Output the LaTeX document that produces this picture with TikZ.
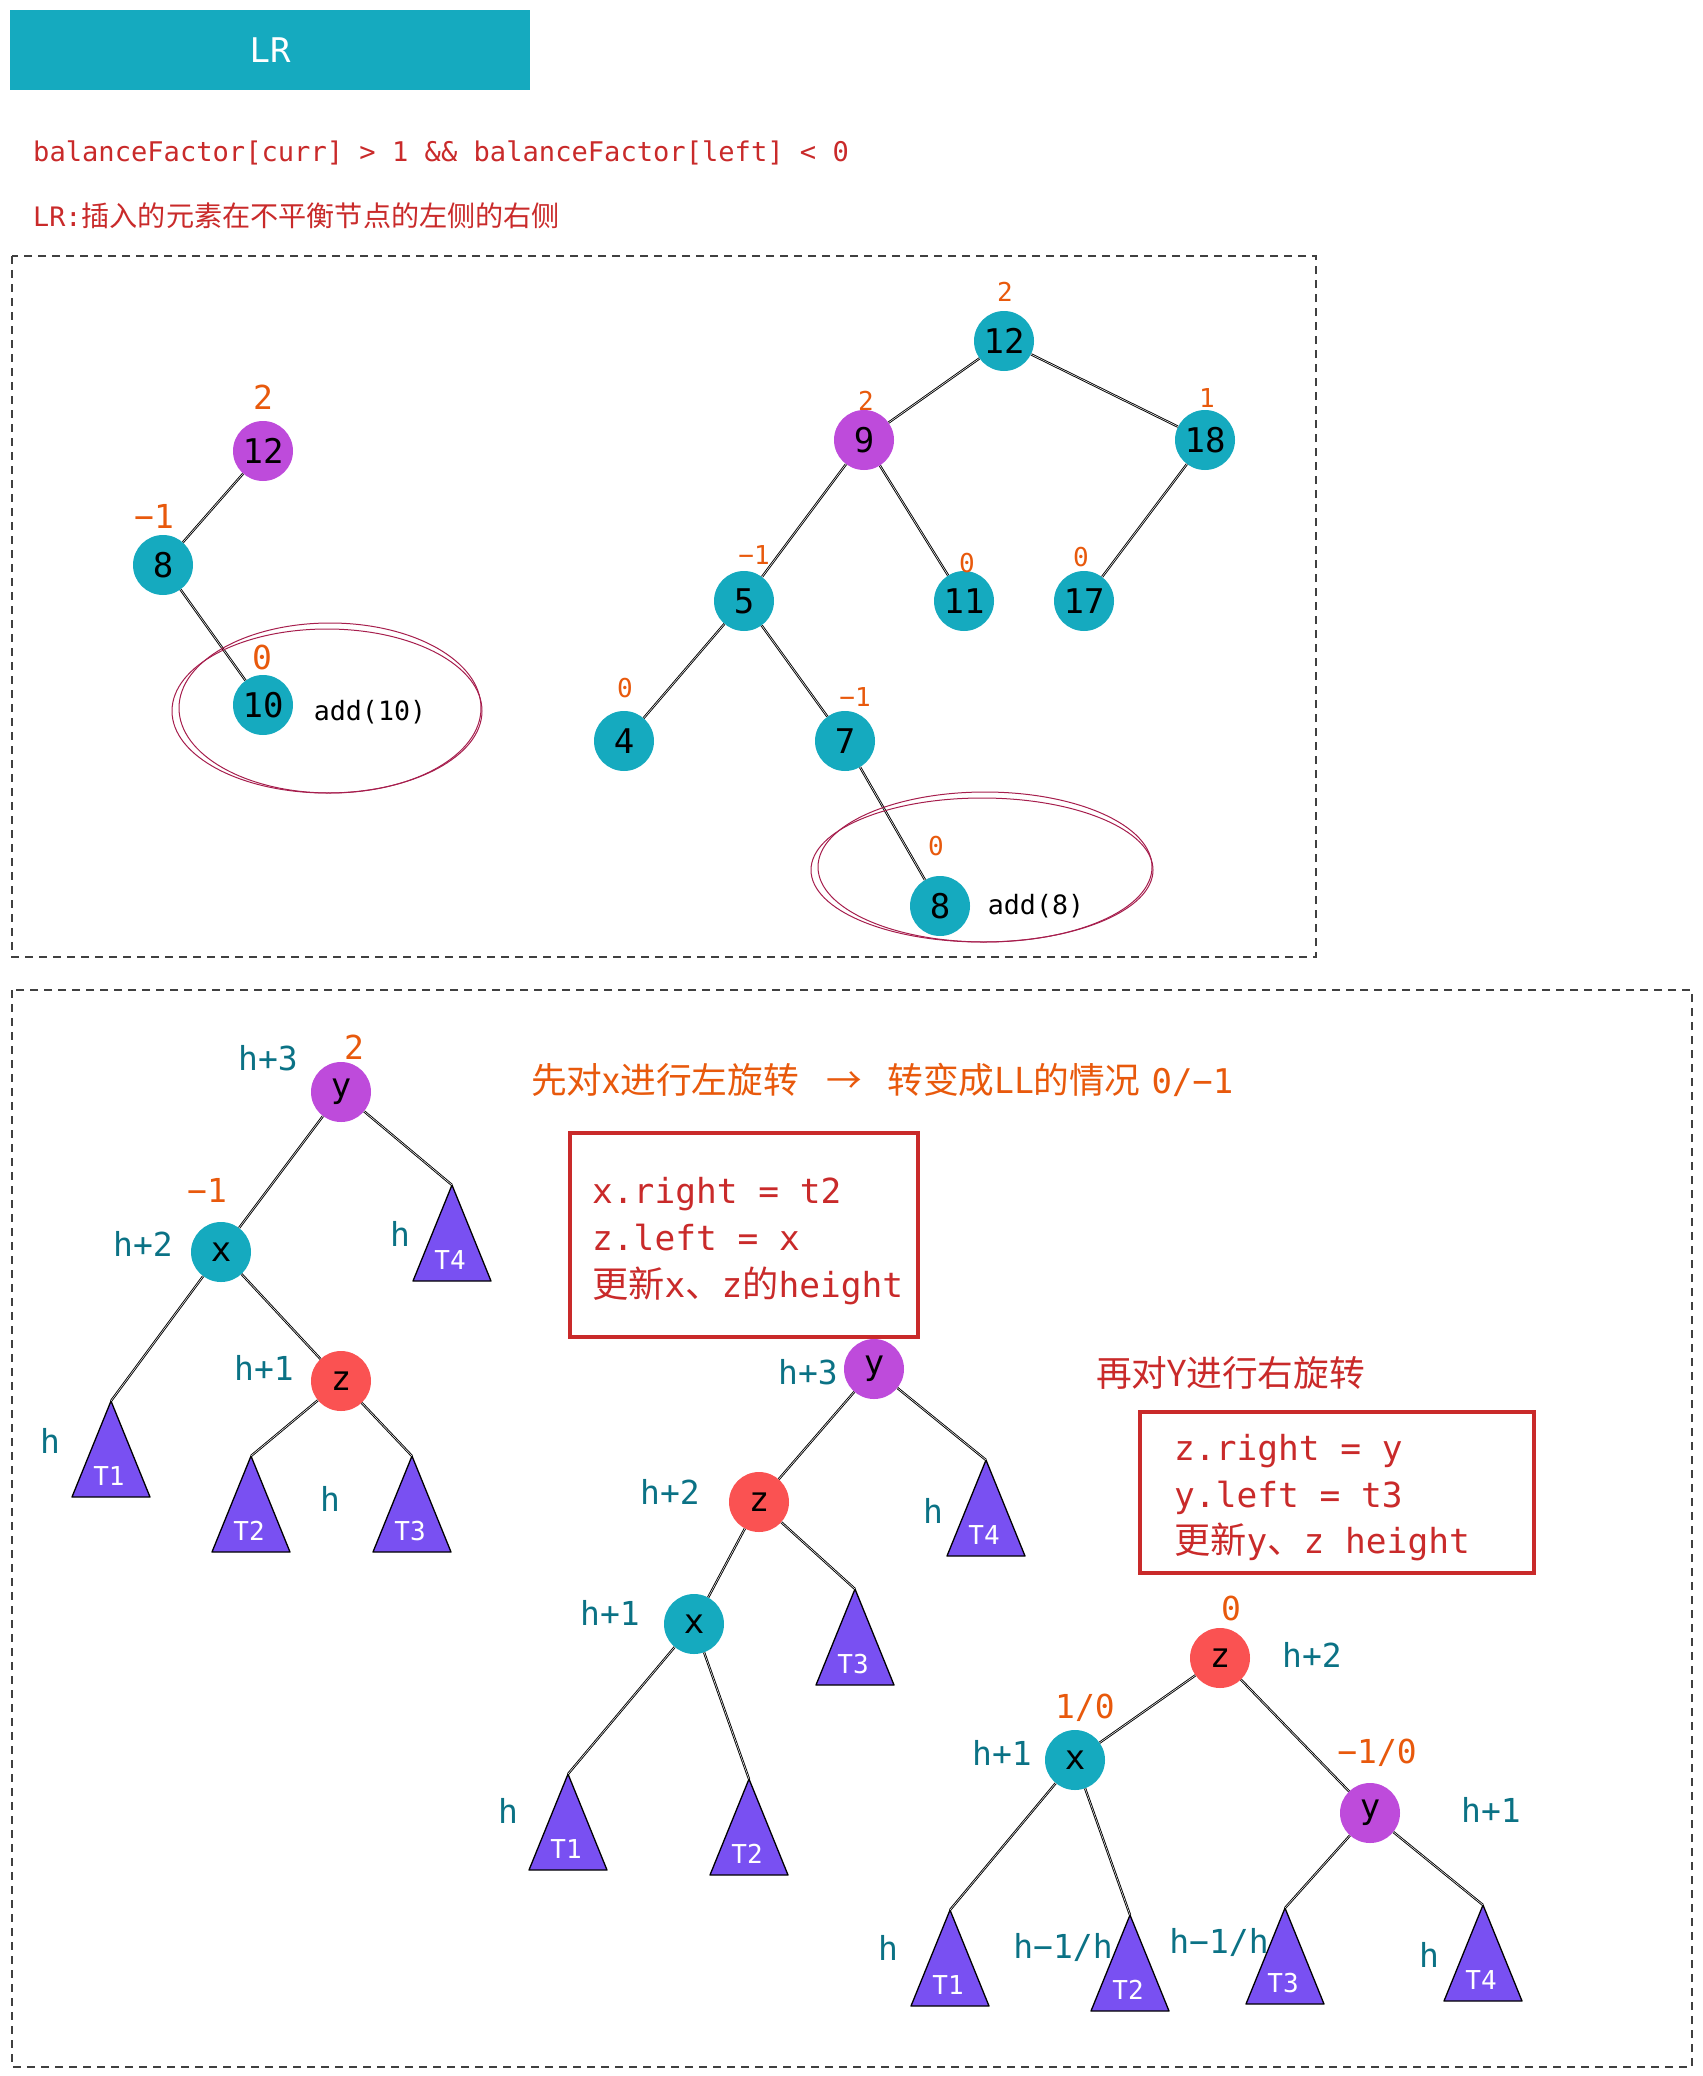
\documentclass[tikz,border=0pt]{standalone}
\usepackage{fontspec}
\setmonofont{DejaVu Sans Mono}
\newfontfamily\cjk[Scale=1.05]{Noto Sans CJK SC}
\newcommand{\pxfont}[1]{\fontsize{#1}{#1}\selectfont}
\definecolor{nodeteal}{HTML}{15AABF}
\definecolor{nodepurple}{HTML}{BE4BDB}
\definecolor{nodered}{HTML}{FA5252}
\definecolor{treeviolet}{HTML}{7950F2}
\definecolor{bforange}{HTML}{E8590C}
\definecolor{htext}{HTML}{0B7285}
\definecolor{codered}{HTML}{C92A2A}
\definecolor{ringpink}{HTML}{A61E4D}

\begin{document}
\begin{tikzpicture}[x=1pt,y=-1pt,
		avl/.style={circle,inner sep=0pt,minimum size=60pt,font=\ttfamily\pxfont{34}},
		tealnode/.style={avl,fill=nodeteal},
		purplenode/.style={avl,fill=nodepurple},
		rednode/.style={avl,fill=nodered},
		bf/.style={text=bforange,font=\ttfamily\pxfont{33}},
		bfsmall/.style={text=bforange,font=\ttfamily\pxfont{26}},
		hlab/.style={text=htext,font=\ttfamily\pxfont{33}},
		edge/.style={draw=black,line width=0.9pt,double=white,double distance=0.5pt},
		subtree/.style={draw=black,fill=treeviolet,line width=1.3pt,line join=round},
		tlab/.style={text=white,font=\ttfamily\pxfont{26}},
		frame/.style={draw=black!75,line width=1.4pt,dash pattern=on 8pt off 6pt},
		ring/.style={draw=ringpink,line width=1pt},
		notebox/.style={draw=codered,line width=4pt},
		textline/.style={anchor=base west,inner sep=0pt},
		code/.style={textline,text=codered,font=\ttfamily\pxfont{34.5}}]
		\useasboundingbox (0,0) rectangle (1702,2076);
		% header
		\node[fill=nodeteal,minimum width=520pt,minimum height=80pt,inner sep=0pt,text=white,font=\ttfamily\pxfont{34}] (header) at (270,50) {LR};
		\node[textline,text=codered,font=\ttfamily\pxfont{27.1}] (cond) at (33,162) {balanceFactor[curr] > 1 \&\& balanceFactor[left] < 0};
		\node[textline,text=codered,font=\pxfont{26.8}] (case) at (33,227) {\ttfamily LR:\cjk 插入的元素在不平衡节点的左侧的右侧};
		\draw[frame] (12,256) rectangle (1316,957);
		\draw[frame] (12,990) rectangle (1692,2067);
		% add(10)
		\node[purplenode] (tl12) at (263,451) {12};
		\node[tealnode] (tl8) at (163,565) {8};
		\node[tealnode] (tl10) at (263,705) {10};
		\draw[edge] (tl12) -- (tl8);
		\draw[edge] (tl8) -- (tl10);
		\foreach \n/\x/\y/\t in {bf-tl12/263/397/2, bf-tl8/154/516/−1, bf-tl10/262/657/0}
		\node[bf] (\n) at (\x,\y) {\t};
		\node[font=\ttfamily\pxfont{26.6}] (add10) at (370,712) {add(10)};
		\draw[ring] (327,711) ellipse [x radius=155, y radius=82];
		\draw[ring] (330,708) ellipse [x radius=151, y radius=85];
		% add(8)
		\foreach \n/\x/\y/\t in {tr12/1004/341/12, tr18/1205/440/18, tr5/744/601/5, tr11/964/601/11, tr17/1084/601/17, tr4/624/741/4, tr7/845/741/7, tr8/940/906/8}
		\node[tealnode] (\n) at (\x,\y) {\t};
		\node[purplenode] (tr9) at (864,440) {9};
		\foreach \a/\b in {tr12/tr9, tr12/tr18, tr9/tr5, tr9/tr11, tr18/tr17, tr5/tr4, tr5/tr7, tr7/tr8}
		\draw[edge] (\a) -- (\b);
		\foreach \n/\x/\y/\t in {bf-tr12/1005/292/2, bf-tr9/866/401/2, bf-tr18/1207/398/1, bf-tr5/754/555/−1, bf-tr11/967/563/0, bf-tr17/1081/557/0, bf-tr4/625/688/0, bf-tr7/855/697/−1, bf-tr8/936/846/0}
		\node[bfsmall] (\n) at (\x,\y) {\t};
		\node[font=\ttfamily\pxfont{26.6}] (add8) at (1036,906) {add(8)};
		\draw[ring] (982,870) ellipse [x radius=171, y radius=72];
		\draw[ring] (985,867) ellipse [x radius=167, y radius=75];
		% subtrees
		\foreach \n/\x/\y/\t in {a1/111/1401/T1, a2/251/1456/T2, a3/412/1456/T3, a4/452/1185/T4, b1/568/1774/T1, b2/749/1779/T2, b3/855/1589/T3, b4/986/1460/T4, c1/950/1910/T1, c2/1130/1915/T2, c3/1285/1908/T3, c4/1483/1905/T4}
		{
			\draw[subtree] (\x,\y) coordinate (\n) -- ++(39,96) -- ++(-78,0) -- cycle;
			\node[tlab] (\n-t) at (\x-2,\y+75) {\t};
		}
		% before: y, x, z
		\node[purplenode] (y1) at (341,1092) {y};
		\node[tealnode] (x1) at (221,1252) {x};
		\node[rednode] (z1) at (341,1381) {z};
		\foreach \a/\b in {y1/x1, y1/a4, x1/a1, x1/z1, z1/a2, z1/a3}
		\draw[edge] (\a) -- (\b);
		\node[bf] (bf-y1) at (354,1047) {2};
		\node[bf] (bf-x1) at (207,1190) {−1};
		\foreach \n/\x/\y/\t in {h-y1/268/1058/h+3, h-x1/143/1244/h+2, h-z1/264/1368/h+1, h-a4/400/1234/h, h-a1/50/1441/h, h-a23/330/1499/h}
		\node[hlab] (\n) at (\x,\y) {\t};
		% left rotation
		\node[textline,text=bforange,font=\pxfont{34}] (lefttitle) at (531,1093) {\cjk 先对x进行左旋转\hspace{28pt}→\hspace{25pt}转变成LL的情况\hspace{11pt}\ttfamily 0/−1};
		\draw[notebox] (570,1133) rectangle (918,1337);
		\node[code] (left1) at (592,1203) {x.right = t2};
		\node[code] (left2) at (592,1250) {z.left = x};
		\node[code] (left3) at (592,1297) {\cjk 更新\ttfamily x\cjk 、\ttfamily z\cjk 的\ttfamily height};
		\node[purplenode] (y2) at (874,1369) {y};
		\node[rednode] (z2) at (759,1502) {z};
		\node[tealnode] (x2) at (694,1624) {x};
		\foreach \a/\b in {y2/z2, y2/b4, z2/x2, z2/b3, x2/b1, x2/b2}
		\draw[edge] (\a) -- (\b);
		\foreach \n/\x/\y/\t in {h-y2/808/1372/h+3, h-z2/670/1492/h+2, h-x2/610/1613/h+1, h-b4/933/1511/h, h-b1/508/1811/h}
		\node[hlab] (\n) at (\x,\y) {\t};
		% right rotation
		\node[textline,text=codered,font=\cjk\pxfont{34}] (righttitle) at (1096,1386) {再对Y进行右旋转};
		\draw[notebox] (1140,1412) rectangle (1534,1573);
		\node[code] (right1) at (1174,1460) {z.right = y};
		\node[code] (right2) at (1174,1507) {y.left = t3};
		\node[code] (right3) at (1174,1553) {\cjk 更新\ttfamily y\cjk 、\ttfamily z height};
		\node[rednode] (z3) at (1220,1658) {z};
		\node[tealnode] (x3) at (1075,1760) {x};
		\node[purplenode] (y3) at (1370,1813) {y};
		\foreach \a/\b in {z3/x3, z3/y3, x3/c1, x3/c2, y3/c3, y3/c4}
		\draw[edge] (\a) -- (\b);
		\node[bf] (bf-z3) at (1231,1608) {0};
		\node[bf] (bf-x3) at (1085,1708) {1/0};
		\node[bf] (bf-y3) at (1377,1753) {−1/0};
		\foreach \n/\x/\y/\t in {h-z3/1312/1655/h+2, h-x3/1002/1753/h+1, h-y3/1491/1810/h+1, h-c1/888/1948/h, h-c4/1429/1955/h}
		\node[hlab] (\n) at (\x,\y) {\t};
		\node[hlab] (h-c2) at (1063,1947) {h−1/h};
		\node[hlab] (h-c3) at (1219,1942) {h−1/h};
\end{tikzpicture}
\end{document}
